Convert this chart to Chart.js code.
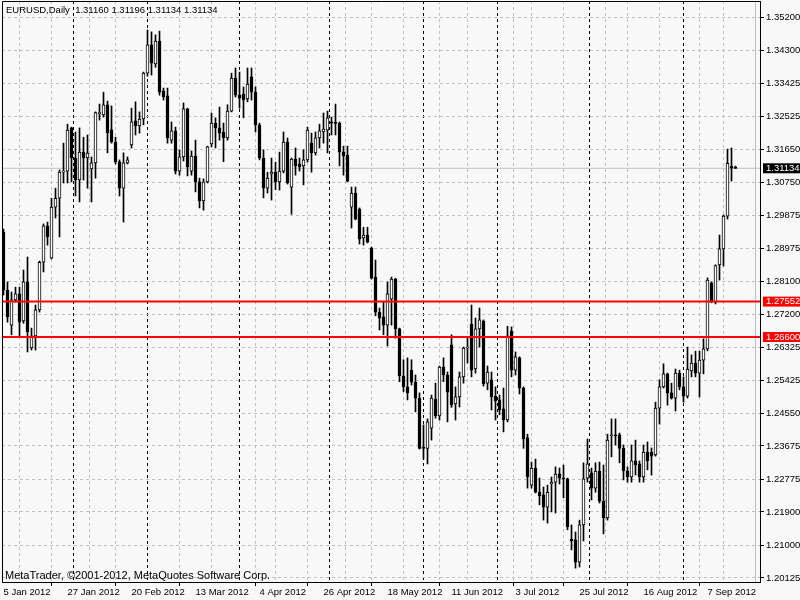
<!DOCTYPE html>
<html><head><meta charset="utf-8">
<script src="https://cdn.jsdelivr.net/npm/chart.js@4/dist/chart.umd.min.js"></script>
<style>html,body{margin:0;padding:0;background:#f8f8f8;}canvas{display:block;}</style>
</head><body>
<canvas id="c" width="800" height="600"></canvas>
<script>
const symbolTitle = 'EURUSD,Daily';
const copyright = 'MetaTrader, \u00A92001-2012, MetaQuotes Software Corp.';

const openP = [1.2942,1.2786,1.2692,1.2760,1.2776,1.2703,1.2808,1.2631,1.2663,1.2733,
 1.2861,1.2959,1.2872,1.3009,1.3033,1.3103,1.3106,1.3222,1.3141,1.3082,
 1.3157,1.3141,1.3112,1.3128,1.3260,1.3257,1.3284,1.3217,1.3184,1.3131,
 1.3060,1.3128,1.3176,1.3241,1.3227,1.3246,1.3369,1.3445,1.3394,1.3455,
 1.3321,1.3308,1.3189,1.3214,1.3106,1.3144,1.3273,1.3106,1.3146,1.3077,
 1.3026,1.3077,1.3179,1.3235,1.3222,1.3211,1.3195,1.3267,1.3356,1.3310,
 1.3313,1.3300,1.3359,1.3318,1.3230,1.3141,1.3060,1.3098,1.3103,1.3077,
 1.3106,1.3184,1.3063,1.3138,1.3125,1.3120,1.3136,1.3181,1.3155,1.3195,
 1.3211,1.3216,1.3238,1.3235,1.3235,1.3157,1.3149,1.3009,1.3047,1.3004,
 1.2926,1.2934,1.2899,1.2821,1.2727,1.2714,1.2692,1.2762,1.2816,1.2682,
 1.2556,1.2526,1.2571,1.2539,1.2496,1.2364,1.2361,1.2415,1.2493,1.2448,
 1.2579,1.2558,1.2639,1.2480,1.2499,1.2553,1.2630,1.2695,1.2574,1.2682,
 1.2703,1.2536,1.2545,1.2501,1.2491,1.2467,1.2437,1.2676,1.2571,1.2604,
 1.2523,1.2389,1.2262,1.2308,1.2243,1.2236,1.2203,1.2265,1.2270,1.2292,
 1.2281,1.2279,1.2117,1.2115,1.2055,1.2155,1.2281,1.2295,1.2254,1.2300,
 1.2219,1.2174,1.2394,1.2397,1.2397,1.2361,1.2300,1.2284,1.2327,1.2319,
 1.2284,1.2351,1.2351,1.2343,1.2469,1.2526,1.2561,1.2510,1.2496,1.2563,
 1.2526,1.2501,1.2569,1.2590,1.2563,1.2598,1.2628,1.2805,1.2754,1.2854,
 1.2897,1.2985,1.3119,1.31160];

const highP = [1.2950,1.2808,1.2781,1.2794,1.2794,1.2840,1.2875,1.2684,1.2746,1.2864,
 1.2964,1.2969,1.3033,1.3060,1.3109,1.3181,1.3232,1.3224,1.3211,1.3222,
 1.3197,1.3203,1.3144,1.3265,1.3286,1.3318,1.3294,1.3281,1.3197,1.3136,
 1.3155,1.3144,1.3275,1.3292,1.3265,1.3372,1.3485,1.3480,1.3472,1.3482,
 1.3329,1.3329,1.3238,1.3224,1.3163,1.3289,1.3275,1.3160,1.3189,1.3087,
 1.3085,1.3173,1.3262,1.3249,1.3278,1.3235,1.3284,1.3369,1.3383,1.3372,
 1.3332,1.3383,1.3383,1.3332,1.3235,1.3163,1.3103,1.3141,1.3130,1.3157,
 1.3211,1.3195,1.3141,1.3168,1.3141,1.3163,1.3224,1.3208,1.3211,1.3232,
 1.3262,1.3267,1.3251,1.3286,1.3238,1.3173,1.3173,1.3063,1.3063,1.3007,
 1.2955,1.2955,1.2902,1.2867,1.2738,1.2754,1.2808,1.2821,1.2818,1.2684,
 1.2599,1.2604,1.2599,1.2558,1.2510,1.2424,1.2440,1.2504,1.2536,1.2582,
 1.2604,1.2566,1.2666,1.2526,1.2566,1.2633,1.2660,1.2746,1.2711,1.2738,
 1.2706,1.2582,1.2566,1.2526,1.2504,1.2523,1.2689,1.2687,1.2620,1.2607,
 1.2526,1.2399,1.2324,1.2332,1.2281,1.2257,1.2262,1.2284,1.2311,1.2308,
 1.2316,1.2281,1.2155,1.2136,1.2168,1.2322,1.2386,1.2308,1.2322,1.2324,
 1.2316,1.2399,1.2440,1.2440,1.2402,1.2370,1.2311,1.2370,1.2383,1.2327,
 1.2370,1.2378,1.2362,1.2485,1.2545,1.2588,1.2563,1.2536,1.2574,1.2571,
 1.2553,1.2633,1.2612,1.2622,1.2622,1.2655,1.2819,1.2808,1.2854,1.2934,
 1.2988,1.3165,1.3168,1.31196];

const lowP = [1.2773,1.2700,1.2666,1.2754,1.2660,1.2697,1.2620,1.2625,1.2625,1.2727,
 1.2835,1.2907,1.2870,1.2980,1.2929,1.3074,1.3074,1.3077,1.3039,1.3023,
 1.3082,1.3060,1.3023,1.3087,1.3243,1.3251,1.3155,1.3181,1.3125,1.3039,
 1.2969,1.3125,1.3168,1.3203,1.3208,1.3230,1.3361,1.3364,1.3385,1.3310,
 1.3297,1.3181,1.3181,1.3098,1.3095,1.3133,1.3093,1.3095,1.3050,1.3007,
 1.3001,1.3074,1.3171,1.3168,1.3189,1.3131,1.3189,1.3265,1.3305,1.3275,
 1.3249,1.3292,1.3297,1.3211,1.3136,1.3034,1.3047,1.3028,1.3056,1.3055,
 1.3101,1.3071,1.2990,1.3095,1.3106,1.3069,1.3130,1.3103,1.3149,1.3168,
 1.3181,1.3155,1.3203,1.3203,1.3120,1.3095,1.3077,1.2953,1.2975,1.2910,
 1.2907,1.2913,1.2816,1.2717,1.2679,1.2666,1.2636,1.2692,1.2657,1.2540,
 1.2513,1.2491,1.2531,1.2459,1.2359,1.2332,1.2319,1.2383,1.2442,1.2437,
 1.2540,1.2432,1.2471,1.2437,1.2472,1.2536,1.2590,1.2553,1.2563,1.2633,
 1.2528,1.2518,1.2464,1.2437,1.2451,1.2405,1.2432,1.2553,1.2558,1.2507,
 1.2361,1.2254,1.2254,1.2241,1.2209,1.2168,1.2160,1.2190,1.2187,1.2265,
 1.2228,1.2142,1.2088,1.2039,1.2042,1.2112,1.2270,1.2222,1.2243,1.2214,
 1.2131,1.2168,1.2338,1.2370,1.2322,1.2276,1.2270,1.2270,1.2289,1.2270,
 1.2270,1.2303,1.2289,1.2340,1.2426,1.2523,1.2477,1.2493,1.2461,1.2518,
 1.2485,1.2496,1.2553,1.2553,1.2499,1.2561,1.2623,1.2752,1.2749,1.2813,
 1.2851,1.2977,1.3079,1.31134];

const closeP = [1.2786,1.2714,1.2760,1.2776,1.2700,1.2808,1.2674,1.2663,1.2733,1.2861,
 1.2959,1.2929,1.3009,1.3033,1.3103,1.3106,1.3216,1.3141,1.3082,1.3157,
 1.3141,1.3154,1.3128,1.3263,1.3263,1.3284,1.3209,1.3184,1.3131,1.3060,
 1.3128,1.3136,1.3238,1.3227,1.3246,1.3369,1.3445,1.3396,1.3455,1.3318,
 1.3305,1.3195,1.3214,1.3106,1.3144,1.3273,1.3117,1.3146,1.3077,1.3026,
 1.3077,1.3171,1.3235,1.3222,1.3208,1.3195,1.3267,1.3356,1.3310,1.3302,
 1.3297,1.3340,1.3318,1.3230,1.3141,1.3060,1.3087,1.3103,1.3077,1.3106,
 1.3184,1.3074,1.3138,1.3120,1.3117,1.3136,1.3216,1.3155,1.3195,1.3214,
 1.3219,1.3249,1.3235,1.3234,1.3157,1.3146,1.3079,1.3047,1.2977,1.2923,
 1.2934,1.2915,1.2818,1.2727,1.2711,1.2692,1.2776,1.2816,1.2682,1.2556,
 1.2526,1.2510,1.2539,1.2496,1.2361,1.2361,1.2432,1.2496,1.2448,1.2579,
 1.2558,1.2512,1.2477,1.2499,1.2553,1.2630,1.2633,1.2571,1.2682,1.2706,
 1.2534,1.2566,1.2499,1.2488,1.2464,1.2437,1.2663,1.2571,1.2607,1.2523,
 1.2386,1.2284,1.2308,1.2243,1.2233,1.2203,1.2243,1.2270,1.2292,1.2281,
 1.2279,1.2150,1.2112,1.2055,1.2155,1.2279,1.2319,1.2254,1.2300,1.2219,
 1.2174,1.2383,1.2397,1.2394,1.2361,1.2300,1.2284,1.2327,1.2316,1.2284,
 1.2351,1.2327,1.2340,1.2469,1.2526,1.2561,1.2510,1.2496,1.2563,1.2526,
 1.2501,1.2574,1.2590,1.2563,1.2598,1.2628,1.2813,1.2754,1.2852,1.2897,
 1.2985,1.3127,1.3114,1.31134];

const dateLabels = ['5 Jan 2012','27 Jan 2012','20 Feb 2012','13 Mar 2012','4 Apr 2012','26 Apr 2012',
  '18 May 2012','11 Jun 2012','3 Jul 2012','25 Jul 2012','16 Aug 2012','7 Sep 2012'];
const dateLabelIndex = [0,16,32,48,64,80,96,112,128,144,160,176];
const gridIndex = [0,8,16,24,32,40,48,56,64,72,80,88,96,104,112,120,128,136,144,152,160,168,176,184];
const monthStartIndex = [19,40,62,83,106,127,149,172];
const priceTicks = [1.20125,1.21000,1.21900,1.22775,1.23675,1.24550,1.25425,1.26325,1.27200,
  1.28100,1.28975,1.29875,1.30750,1.31650,1.32525,1.33425,1.34300,1.35200];
const levelLines = [1.27552, 1.26600];
const bidPrice = 1.31134;

const N = openP.length;
const last = N - 1;
const headerText = symbolTitle + '  ' + [openP[last], highP[last], lowP[last], closeP[last]].map(v => v.toFixed(5)).join(' ');

const X_MIN = -0.375, X_MAX = 189.125;
const Y_MIN = 1.20017, Y_MAX = 1.35630;
const FONT = '"Liberation Sans", Arial, sans-serif';

const bodies = openP.map((o, i) => ({x: i, y: [o, closeP[i]]}));
const wicks = openP.map((o, i) => ({x: i, y: [lowP[i], highP[i]]}));
const hline = v => [{x: X_MIN, y: v}, {x: X_MAX, y: v}];

const xTickValues = Array.from(new Set([...gridIndex, ...monthStartIndex])).sort((a, b) => a - b);
const yTickValues = [...priceTicks, ...levelLines, bidPrice].sort((a, b) => a - b);
const isLevel = v => levelLines.includes(v);
const isBid = v => v === bidPrice;
const isSpecial = v => isLevel(v) || isBid(v);

const overlay = {
  id: 'overlay',
  beforeDraw(chart) {
    const ctx = chart.ctx;
    ctx.save();
    ctx.fillStyle = '#f8f8f8';
    ctx.fillRect(0, 0, chart.width, chart.height);
    ctx.restore();
  },
  afterDraw(chart) {
    const {ctx, chartArea: a} = chart;
    ctx.save();
    ctx.strokeStyle = '#000';
    ctx.lineWidth = 1;
    ctx.beginPath();
    ctx.moveTo(Math.round(a.left) + 0.5, Math.round(a.bottom));
    ctx.lineTo(Math.round(a.left) + 0.5, Math.round(a.top) + 0.5);
    ctx.lineTo(Math.round(a.right), Math.round(a.top) + 0.5);
    ctx.stroke();
    ctx.fillStyle = '#000';
    ctx.textBaseline = 'alphabetic';
    ctx.textAlign = 'left';
    ctx.font = '9.5px ' + FONT;
    ctx.fillText(headerText, 6, 13);
    ctx.font = '11px ' + FONT;
    ctx.fillText(copyright, 5, 579);
    ctx.restore();
  }
};

new Chart(document.getElementById('c'), {
  type: 'bar',
  data: {
    datasets: [
      {type: 'line', data: hline(levelLines[0]), borderColor: '#ff0000', borderWidth: 2, pointRadius: 0, xAxisID: 'x', yAxisID: 'y'},
      {type: 'line', data: hline(levelLines[1]), borderColor: '#ff0000', borderWidth: 2, pointRadius: 0, xAxisID: 'x', yAxisID: 'y'},
      {type: 'bar', data: bodies, grouped: false, barThickness: 3, maxBarThickness: 3, minBarLength: 1,
        backgroundColor: c => (closeP[c.dataIndex] >= openP[c.dataIndex] ? '#ffffff' : '#000000'),
        borderColor: '#000000', borderWidth: 1, borderSkipped: false, xAxisID: 'x', yAxisID: 'y'},
      {type: 'bar', data: wicks, grouped: false, barThickness: 1, maxBarThickness: 1,
        backgroundColor: '#000000', borderWidth: 0, xAxisID: 'x', yAxisID: 'y'},
      {type: 'line', data: hline(bidPrice), borderColor: '#c0c0c0', borderWidth: 1, pointRadius: 0, xAxisID: 'x', yAxisID: 'y'}
    ]
  },
  options: {
    responsive: false,
    animation: false,
    devicePixelRatio: 1,
    layout: {padding: {left: 2, top: 1, right: 0, bottom: 0}},
    plugins: {legend: {display: false}, tooltip: {enabled: false}},
    scales: {
      x: {
        type: 'linear', position: 'bottom', min: X_MIN, max: X_MAX, offset: false,
        afterBuildTicks: s => { s.ticks = xTickValues.map(v => ({value: v})); },
        afterFit: s => { s.height = 18; s.paddingLeft = 0; s.paddingRight = 0; },
        ticks: {
          autoSkip: false, maxRotation: 0, minRotation: 0, align: 'start', padding: 1,
          color: '#000', font: {family: FONT, size: 9.5, lineHeight: 1.05},
          callback: v => { const k = dateLabelIndex.indexOf(v); return k >= 0 ? dateLabels[k] : ''; }
        },
        grid: {
          color: c => (c.tick && monthStartIndex.includes(c.tick.value) ? '#000000' : '#c0c0c0'),
          lineWidth: 1, drawTicks: true, tickLength: 4, tickWidth: 1,
          tickColor: c => (c.tick && dateLabelIndex.includes(c.tick.value) ? '#000000' : 'rgba(0,0,0,0)'),
          tickBorderDash: []
        },
        border: {display: true, color: '#000', width: 1, dash: c => (c.tick ? [3, 3] : [])}
      },
      y: {
        type: 'linear', position: 'right', min: Y_MIN, max: Y_MAX,
        afterBuildTicks: s => { s.ticks = yTickValues.map(v => ({value: v})); },
        afterFit: s => { s.width = 40; s.paddingTop = 0; s.paddingBottom = 0; },
        ticks: {
          autoSkip: false, padding: 2,
          font: {family: FONT, size: 9.5, lineHeight: 1.05},
          color: c => (c.tick && isSpecial(c.tick.value) ? '#ffffff' : '#000000'),
          showLabelBackdrop: c => !!(c.tick && isSpecial(c.tick.value)),
          backdropColor: c => (c.tick && isLevel(c.tick.value) ? '#ff0000' : '#000000'),
          backdropPadding: {top: 0, bottom: 0, left: 3, right: 3},
          callback: v => Number(v).toFixed(5)
        },
        grid: {
          color: c => (c.tick && isSpecial(c.tick.value) ? 'rgba(0,0,0,0)' : '#c0c0c0'),
          lineWidth: 1, drawTicks: true, tickLength: 4, tickWidth: 1,
          tickColor: c => (c.tick && isSpecial(c.tick.value) ? 'rgba(0,0,0,0)' : '#000000'),
          tickBorderDash: []
        },
        border: {display: true, color: '#000', width: 1, dash: c => (c.tick ? [3, 3] : [])}
      }
    }
  },
  plugins: [overlay]
});
</script>
</body></html>
